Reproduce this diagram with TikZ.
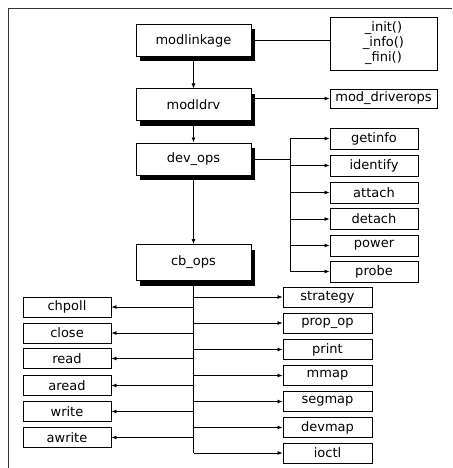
\documentclass[tikz,border=0pt]{standalone}
\usepackage{fontspec}
\setmainfont{DejaVu Sans}
\usetikzlibrary{arrows.meta,shadows}

\begin{document}
\begin{tikzpicture}[x=1pt,y=-1pt,
    font=\fontsize{13}{15}\selectfont,
    mainbox/.style={draw,line width=1pt,fill=white,minimum width=115pt,minimum height=32pt,inner sep=0pt,
      drop shadow={shadow xshift=4pt,shadow yshift=-5pt,opacity=1,fill=black}},
    opbox/.style={draw,line width=0.9pt,fill=white,minimum width=88pt,minimum height=20pt,inner sep=0pt},
    flow/.style={line width=0.8pt,-{Latex[length=5pt,width=4pt]}},
    wire/.style={line width=0.8pt}]

    \useasboundingbox (0,0) rectangle (452,468);
    \draw[line width=0.7pt,black!80] (452,8) -| (8,468);

    % module chain
    \node[mainbox] (mlink) at (193.5,40.5) {modlinkage};
    \node[mainbox] (mdrv) at (193.5,105) {modldrv};
    \node[mainbox] (devops) at (193.5,159) {dev\_ops};
    \node[mainbox,minimum height=36pt] (cbops) at (193.5,262.5) {cb\_ops};

    \node[opbox,minimum width=107pt,minimum height=53pt,align=center] (entry) at (383.5,43.5) {\_init()\\\_info()\\\_fini()};
    \node[opbox,minimum width=107pt,minimum height=19pt] (drvops) at (383.5,98.5) {mod\_driverops};

    \draw[flow] (mlink) -- (mdrv);
    \draw[flow] (mdrv) -- (devops);
    \draw[flow] (devops) -- (cbops);
    \draw[wire] (mlink.east) -- (mlink.east -| entry.west);
    \draw[flow] (mdrv.east |- drvops) -- (drvops);

    % dev_ops entries
    \node[opbox,minimum height=21pt] (getinfo) at (374,138.5) {getinfo};
    \node[opbox,minimum height=21pt] (identify) at (374,165.5) {identify};
    \node[opbox,minimum height=21pt] (attach) at (374,192.5) {attach};
    \node[opbox,minimum height=21pt] (detach) at (374,219) {detach};
    \node[opbox,minimum height=21pt] (power) at (374,245.5) {power};
    \node[opbox,minimum height=21pt] (probe) at (374,271.5) {probe};

    \coordinate (djoin) at (290,159);
    \draw[wire] (devops.east) -- (djoin);
    \draw[wire] (djoin |- getinfo) -- (djoin |- probe);
    \draw[flow] (djoin |- getinfo) -- (getinfo);
    \draw[flow] (djoin |- identify) -- (identify);
    \draw[flow] (djoin |- attach) -- (attach);
    \draw[flow] (djoin |- detach) -- (detach);
    \draw[flow] (djoin |- power) -- (power);
    \draw[flow] (djoin |- probe) -- (probe);

    % cb_ops entries
    \node[opbox,minimum width=89pt] (strategy) at (327.5,297) {strategy};
    \node[opbox,minimum width=89pt] (propop) at (327.5,323) {prop\_op};
    \node[opbox,minimum width=89pt] (print) at (327.5,349.5) {print};
    \node[opbox,minimum width=89pt] (mmap) at (327.5,375.5) {mmap};
    \node[opbox,minimum width=89pt] (segmap) at (327.5,401.5) {segmap};
    \node[opbox,minimum width=89pt] (devmap) at (327.5,427.5) {devmap};
    \node[opbox,minimum width=89pt] (ioctl) at (327.5,453) {ioctl};

    \node[opbox] (chpoll) at (67,307) {chpoll};
    \node[opbox] (close) at (67,333) {close};
    \node[opbox] (read) at (67,358.5) {read};
    \node[opbox] (aread) at (67,385.5) {aread};
    \node[opbox] (write) at (67,411.5) {write};
    \node[opbox] (awrite) at (67,437.5) {awrite};

    \draw[wire] (cbops.south) -- (cbops.south |- ioctl);
    \draw[flow] (cbops.south |- strategy) -- (strategy);
    \draw[flow] (cbops.south |- propop) -- (propop);
    \draw[flow] (cbops.south |- print) -- (print);
    \draw[flow] (cbops.south |- mmap) -- (mmap);
    \draw[flow] (cbops.south |- segmap) -- (segmap);
    \draw[flow] (cbops.south |- devmap) -- (devmap);
    \draw[flow] (cbops.south |- ioctl) -- (ioctl);
    \draw[flow] (cbops.south |- chpoll) -- (chpoll);
    \draw[flow] (cbops.south |- close) -- (close);
    \draw[flow] (cbops.south |- read) -- (read);
    \draw[flow] (cbops.south |- aread) -- (aread);
    \draw[flow] (cbops.south |- write) -- (write);
    \draw[flow] (cbops.south |- awrite) -- (awrite);

\end{tikzpicture}
\end{document}
